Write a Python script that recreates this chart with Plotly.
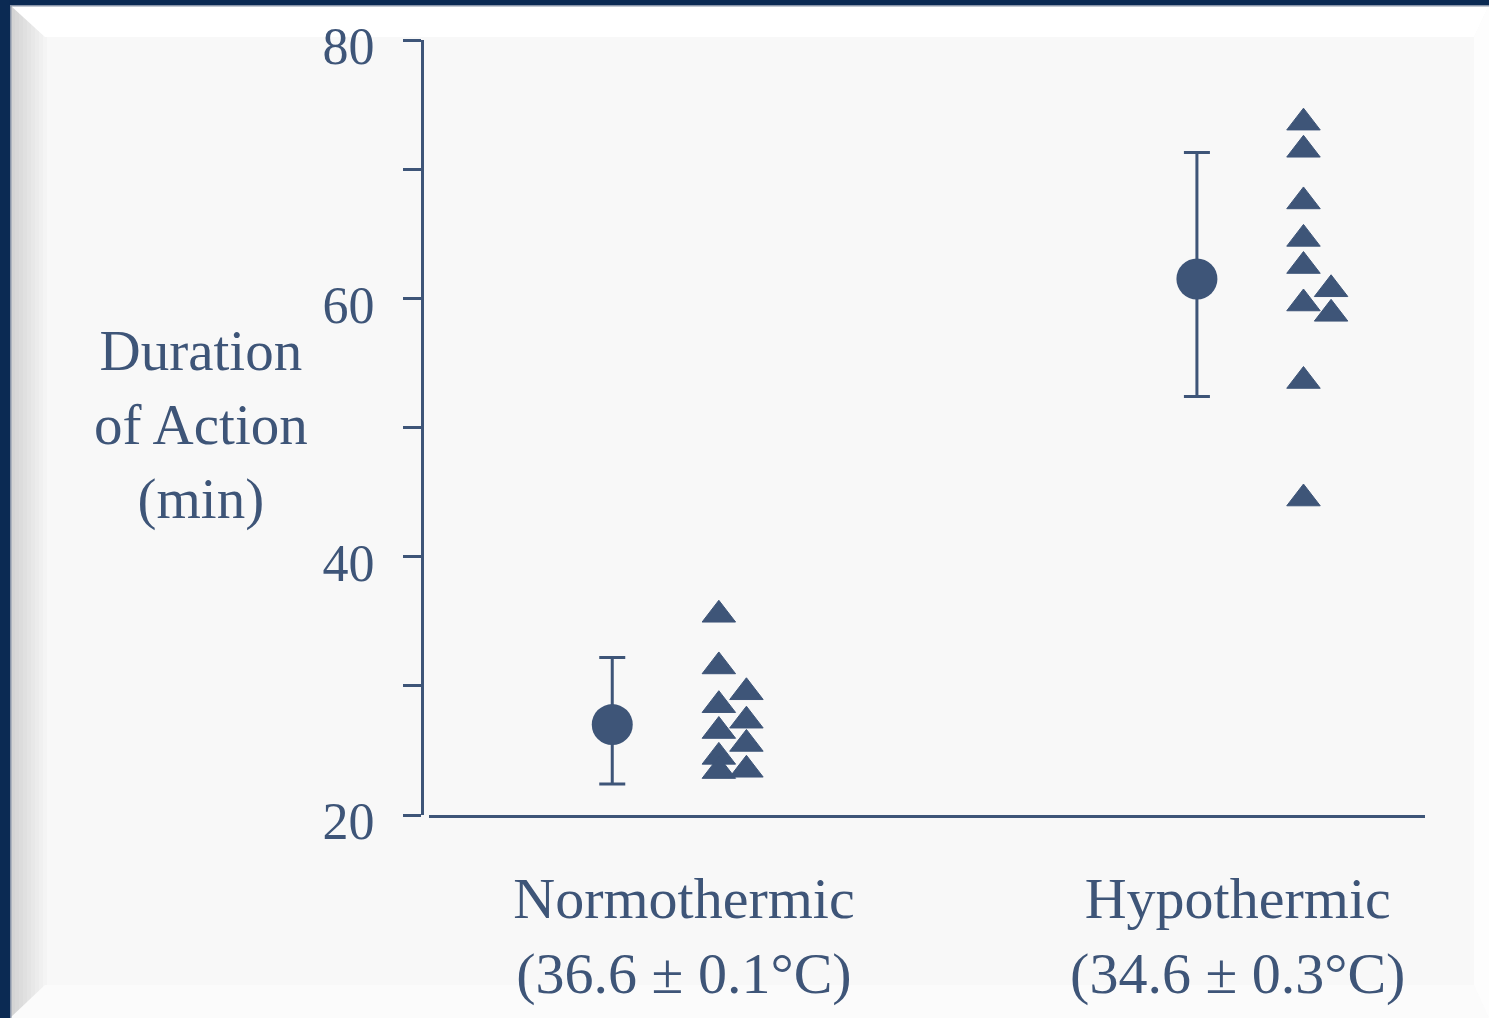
import plotly.graph_objects as go

# ---- data -------------------------------------------------------------
group_labels = ["Normothermic<br>(36.6 ± 0.1°C)", "Hypothermic<br>(34.6 ± 0.3°C)"]
mean_duration = [27.0, 61.5]          # min
err_upper = [5.2, 9.8]
err_lower = [4.6, 9.1]

normo_values = [35.5, 31.5, 28.5, 26.5, 24.5, 23.4, 29.5, 27.3, 25.5, 23.5]
normo_column = [0, 0, 0, 0, 0, 0, 1, 1, 1, 1]
hypo_values = [73.6, 71.5, 67.5, 64.6, 62.5, 59.6, 53.6, 44.5, 60.7, 58.8]
hypo_column = [0, 0, 0, 0, 0, 0, 0, 0, 1, 1]

y_tick_vals = [20, 30, 40, 50, 60, 70, 80]
y_tick_text = ["20", "", "40", "", "60", "", "80"]
y_title = "Duration<br>of Action<br>(min)"

# ---- styling / layout -------------------------------------------------
INK = "#3e5578"
NAVY = "#0b2a53"
FONT = "Liberation Serif"
W, H = 1489, 1018
L, R, T, B = 422, 64, 40, 203

mean_x = [1.84, 7.71]          # x of the mean ± SD markers
label_x = [2.56, 8.12]         # x of the group labels
tri_offset = 1.07              # individual points sit right of the mean
col_step = 0.277               # spacing between side-by-side point columns


def px_x(p):
    return (p - L) / (W - L - R)


def px_y(p):
    return (H - B - p) / (H - T - B)


fig = go.Figure()

# mean ± SD
fig.add_trace(go.Scatter(
    x=mean_x, y=mean_duration, mode="markers",
    marker=dict(symbol="circle", size=41, color=INK),
    error_y=dict(type="data", symmetric=False, array=err_upper,
                 arrayminus=err_lower, color=INK, thickness=3, width=13),
    showlegend=False, hoverinfo="skip",
))

# individual patients
for gx, vals, cols in [(mean_x[0], normo_values, normo_column),
                       (mean_x[1], hypo_values, hypo_column)]:
    fig.add_trace(go.Scatter(
        x=[gx + tri_offset + c * col_step for c in cols], y=vals,
        mode="markers",
        marker=dict(symbol="triangle-up", size=29, color=INK,
                    line=dict(color=INK, width=1)),
        showlegend=False, hoverinfo="skip",
    ))

# ---- frame around the slide ---------------------------------------------
shapes = []


def poly(points, color):
    path = "M " + " L ".join(f"{px_x(x):.5f},{px_y(y):.5f}" for x, y in points) + " Z"
    shapes.append(dict(type="path", path=path, xref="paper", yref="paper",
                       fillcolor=color, line=dict(width=0), layer="below"))


# left bevel gradient
n = 10
c0, c1 = (0xd4, 0xd4, 0xd4), (0xf8, 0xf8, 0xf8)
for i in range(n):
    t = i / (n - 1)
    col = "#%02x%02x%02x" % tuple(int(a + (b - a) * t) for a, b in zip(c0, c1))
    x0 = 11 + i * 4
    poly([(x0, 5), (x0 + 4.5, 5), (x0 + 4.5, H), (x0, H)], col)
# top bevel (light)
poly([(10, 5), (W, 5), (1474, 37), (45, 37)], "#ffffff")
# bottom bevel
poly([(10, H), (45, 985), (1474, 985), (W, H)], "#fbfbfb")
# right bevel
poly([(1474, 37), (W, 5), (W, H), (1474, 985)], "#fdfdfd")
# navy border
poly([(0, 0), (W, 0), (W, 5), (0, 5)], NAVY)
poly([(0, 0), (10, 0), (10, H), (0, H)], NAVY)
poly([(10, 5), (W, 5), (W, 6.5), (10, 6.5)], "#8894a8")
poly([(10, 5), (11.5, 5), (11.5, H), (10, H)], "#8894a8")

# ---- y-axis title (horizontal, stacked) ---------------------------------
annotations = [dict(
    text=y_title, x=px_x(201), y=px_y(425), xref="paper", yref="paper",
    xanchor="center", yanchor="middle", showarrow=False, align="center",
    font=dict(family=FONT, size=57, color=INK),
)]

fig.update_layout(
    width=W, height=H, autosize=False,
    margin=dict(l=L, r=R, t=T, b=B, pad=0, autoexpand=False),
    paper_bgcolor="#f8f8f8", plot_bgcolor="rgba(0,0,0,0)",
    shapes=shapes, annotations=annotations,
    xaxis=dict(
        domain=[px_x(429), 1], range=[0, 10], automargin=False,
        showline=True, linecolor=INK, linewidth=3,
        showgrid=False, zeroline=False, ticks="",
        tickvals=label_x, ticktext=group_labels,
        tickfont=dict(family=FONT, size=58, color=INK),
        ticklabelstandoff=30,
    ),
    yaxis=dict(
        range=[20, 80], anchor="free", position=0, automargin=False,
        showline=True, linecolor=INK, linewidth=3,
        showgrid=False, zeroline=False,
        ticks="outside", ticklen=18, tickwidth=3, tickcolor=INK,
        tickvals=y_tick_vals, ticktext=y_tick_text,
        tickfont=dict(family=FONT, size=52, color=INK),
        ticklabelstandoff=18, ticklabelshift=6,
    ),
)

fig.write_html("out.html")
